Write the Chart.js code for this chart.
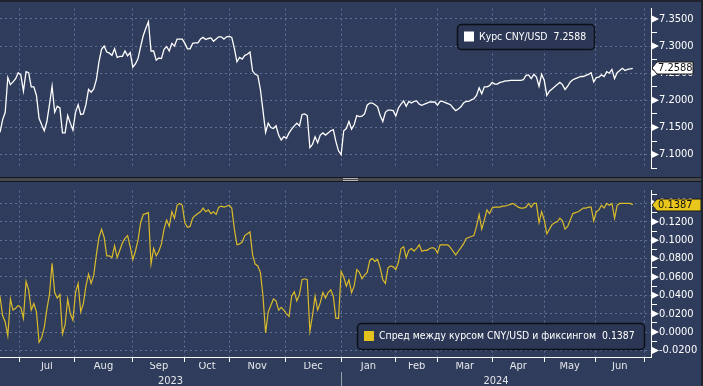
<!DOCTYPE html>
<html>
<head>
<meta charset="utf-8">
<script src="https://cdn.jsdelivr.net/npm/chart.js@4.4.0/dist/chart.umd.min.js"></script>
<style>
    html, body { margin: 0; padding: 0; background: #2f3c5b; }
    #page { position: relative; width: 703px; height: 386px; overflow: hidden; background: #2f3c5b; }
    #haut { position: absolute; left: 0; top: 0; }
    #bas { position: absolute; left: 0; top: 182px; }
    #bordHaut { position: absolute; left: 0; top: 0; width: 703px; height: 2px; background: #1f242e; }
    #bordDroit { position: absolute; left: 701px; top: 0; width: 2px; height: 386px; background: #1f242e; }
    #sep { position: absolute; left: 0; top: 177px; width: 703px; height: 5px; box-sizing: border-box;
           background: #46494e; border-top: 1px solid #16181c; border-bottom: 1px solid #16181c; }
    #poignee { position: absolute; left: 343px; top: 178px; width: 15px; height: 1px;
               border-top: 1px solid #b4b6ba; border-bottom: 1px solid #b4b6ba; }
</style>
</head>
<body>
<div id="page">
    <canvas id="haut" width="703" height="177"></canvas>
    <canvas id="bas" width="703" height="204"></canvas>
    <div id="sep"></div>
    <div id="poignee"></div>
    <div id="bordHaut"></div>
    <div id="bordDroit"></div>
</div>
<script>
// cours CNY/USD, un point par jour de bourse (juin 2023 - juin 2024)
var coursCnyUsd = [
    7.141, 7.164, 7.178, 7.242, 7.229, 7.234, 7.240, 7.251, 7.247, 7.217,
    7.253, 7.251, 7.225, 7.225, 7.209, 7.167, 7.155, 7.144, 7.161, 7.192,
    7.226, 7.178, 7.189, 7.186, 7.140, 7.140, 7.172, 7.158, 7.145, 7.178,
    7.192, 7.174, 7.175, 7.192, 7.220, 7.215, 7.221, 7.238, 7.271, 7.294,
    7.300, 7.289, 7.287, 7.283, 7.295, 7.279, 7.281, 7.281, 7.291, 7.282,
    7.288, 7.261, 7.267, 7.277, 7.299, 7.319, 7.333, 7.345, 7.291, 7.291,
    7.274, 7.278, 7.277, 7.294, 7.299, 7.291, 7.305, 7.300, 7.313, 7.313,
    7.313, 7.305, 7.295, 7.295, 7.305, 7.306, 7.306, 7.313, 7.316, 7.312,
    7.314, 7.315, 7.309, 7.313, 7.317, 7.317, 7.313, 7.317, 7.318, 7.316,
    7.296, 7.271, 7.279, 7.276, 7.283, 7.285, 7.289, 7.254, 7.248, 7.246,
    7.220, 7.181, 7.141, 7.158, 7.150, 7.148, 7.153, 7.136, 7.127, 7.133,
    7.130, 7.140, 7.147, 7.153, 7.158, 7.153, 7.174, 7.175, 7.172, 7.113,
    7.119, 7.133, 7.122, 7.136, 7.140, 7.136, 7.140, 7.144, 7.146, 7.124,
    7.107, 7.100, 7.144, 7.148, 7.161, 7.147, 7.155, 7.172, 7.170, 7.171,
    7.175, 7.191, 7.195, 7.195, 7.192, 7.188, 7.172, 7.161, 7.178, 7.182,
    7.182, 7.181, 7.171, 7.186, 7.193, 7.199, 7.189, 7.198, 7.195, 7.198,
    7.199, 7.193, 7.191, 7.193, 7.195, 7.197, 7.197, 7.197, 7.191, 7.198,
    7.198, 7.196, 7.194, 7.192, 7.186, 7.181, 7.184, 7.188, 7.195, 7.198,
    7.198, 7.201, 7.203, 7.209, 7.223, 7.212, 7.225, 7.225, 7.227, 7.233,
    7.230, 7.230, 7.233, 7.234, 7.236, 7.236, 7.237, 7.237, 7.237, 7.237,
    7.237, 7.238, 7.246, 7.247, 7.240, 7.248, 7.243, 7.226, 7.248, 7.237,
    7.209, 7.217, 7.221, 7.225, 7.229, 7.233, 7.229, 7.220, 7.226, 7.234,
    7.238, 7.240, 7.242, 7.244, 7.244, 7.246, 7.248, 7.251, 7.234, 7.242,
    7.243, 7.247, 7.244, 7.253, 7.250, 7.257, 7.240, 7.251, 7.255, 7.259,
    7.255, 7.257, 7.258, 7.2588
];

// spread entre le cours et le fixing
var spreadFixing = [
    0.039, 0.018, 0.011, -0.004, 0.036, 0.024, 0.026, 0.029, 0.027, 0.015,
    0.055, 0.046, 0.024, 0.031, 0.022, -0.011, -0.006, 0.005, 0.025, 0.041,
    0.075, 0.043, 0.037, 0.041, -0.002, 0.008, 0.036, 0.020, 0.013, 0.043,
    0.053, 0.022, 0.031, 0.050, 0.063, 0.053, 0.062, 0.084, 0.103, 0.112,
    0.103, 0.083, 0.083, 0.081, 0.094, 0.081, 0.089, 0.097, 0.102, 0.105,
    0.093, 0.079, 0.088, 0.100, 0.119, 0.128, 0.129, 0.130, 0.074, 0.091,
    0.083, 0.088, 0.096, 0.112, 0.122, 0.115, 0.131, 0.124, 0.138, 0.140,
    0.138, 0.119, 0.114, 0.115, 0.124, 0.127, 0.129, 0.131, 0.135, 0.131,
    0.133, 0.129, 0.131, 0.128, 0.136, 0.137, 0.136, 0.137, 0.138, 0.135,
    0.112, 0.095, 0.096, 0.098, 0.105, 0.107, 0.109, 0.084, 0.074, 0.072,
    0.065, 0.039, -0.001, 0.022, 0.029, 0.036, 0.034, 0.024, 0.027, 0.024,
    0.020, 0.017, 0.039, 0.044, 0.034, 0.041, 0.057, 0.058, 0.057, 0.001,
    0.018, 0.039, 0.024, 0.032, 0.043, 0.037, 0.043, 0.046, 0.039, 0.015,
    0.015, 0.066, 0.060, 0.050, 0.057, 0.043, 0.050, 0.068, 0.065, 0.058,
    0.062, 0.065, 0.078, 0.080, 0.077, 0.079, 0.070, 0.057, 0.053, 0.070,
    0.072, 0.071, 0.068, 0.076, 0.091, 0.093, 0.081, 0.089, 0.091, 0.088,
    0.091, 0.095, 0.088, 0.089, 0.089, 0.091, 0.092, 0.091, 0.086, 0.095,
    0.095, 0.095, 0.095, 0.092, 0.088, 0.084, 0.088, 0.092, 0.096, 0.102,
    0.103, 0.104, 0.105, 0.115, 0.128, 0.112, 0.122, 0.133, 0.129, 0.135,
    0.136, 0.136, 0.136, 0.137, 0.137, 0.138, 0.139, 0.140, 0.138, 0.136,
    0.135, 0.135, 0.136, 0.140, 0.136, 0.140, 0.140, 0.119, 0.131, 0.122,
    0.107, 0.112, 0.117, 0.119, 0.120, 0.124, 0.121, 0.112, 0.115, 0.122,
    0.129, 0.130, 0.131, 0.133, 0.135, 0.135, 0.136, 0.136, 0.121, 0.131,
    0.133, 0.138, 0.135, 0.140, 0.138, 0.140, 0.124, 0.138, 0.140, 0.140,
    0.140, 0.140, 0.140, 0.1387
];

// index (jour de bourse) du debut de chaque mois, de juil. 2023 a juil. 2024
var debutMois = [7.5, 28.5, 51, 71, 88, 109.5, 131, 152, 168, 189, 209, 228.5, 247.5];
var nomsMois = ["Jul", "Aug", "Sep", "Oct", "Nov", "Dec", "Jan", "Feb", "Mar", "Apr", "May", "Jun"];
var annees = ["2023", "2024"];
var ticksCours = [7.075, 7.100, 7.125, 7.150, 7.175, 7.200, 7.225, 7.250, 7.275, 7.300, 7.325, 7.350];
var ticksSpread = [-0.02, -0.01, 0, 0.01, 0.02, 0.03, 0.04, 0.05, 0.06, 0.07, 0.08, 0.09, 0.10, 0.11, 0.12, 0.13, 0.14, 0.15];

var jours = [];
for (i = 0; i < coursCnyUsd.length; i++) {
    jours.push(i);
}

var police = 'Tahoma, "DejaVu Sans Condensed", "Liberation Sans", sans-serif';
var couleurGrille = '#5f7099';
var jaune = '#d9bb2b';
Chart.defaults.font.family = police;
Chart.defaults.font.size = 11;

var moitiesMois = [];
for (i = 0; i < nomsMois.length; i++) {
    moitiesMois.push((debutMois[i] + debutMois[i + 1]) / 2);
}
var centresAnnees = [debutMois[6] / 2, (debutMois[6] + 250) / 2];

function axeY(ticks, min, max, majeur) {
    return {
        position: 'right',
        min: min,
        max: max,
        afterBuildTicks: function (s) {
            s.ticks = ticks.map(function (v) {
                return {value: v, principal: majeur(v)};
            });
        },
        afterFit: function (s) { s.width = 52; },
        ticks: {
            autoSkip: false,
            color: '#ffffff',
            padding: 2,
            font: {size: 11},
            callback: function (v) { return majeur(v) ? v.toFixed(4) : ''; }
        },
        grid: {
            color: function (c) { return c.tick && c.tick.principal ? couleurGrille : 'rgba(0,0,0,0)'; },
            tickLength: 6,
            tickColor: function (c) { return c.tick && c.tick.principal ? 'rgba(0,0,0,0)' : '#ffffff'; }
        },
        border: {display: true, color: '#ffffff', width: 1, dash: [2, 3]}
    };
}

// petits triangles, etiquette de derniere valeur et legende
function decor(id, axe, valeur, fond, largeurEtiquette, legende) {
    return {
        id: id,
        afterDraw: function (chart) {
            var ctx = chart.ctx, s = chart.scales[axe];
            ctx.save();
            ctx.fillStyle = '#ffffff';
            s.ticks.forEach(function (t) {
                if (!t.principal) return;
                var y = s.getPixelForValue(t.value);
                ctx.beginPath();
                ctx.moveTo(s.left + 1, y - 3.5);
                ctx.lineTo(s.left + 8, y);
                ctx.lineTo(s.left + 1, y + 3.5);
                ctx.closePath();
                ctx.fill();
            });

            var yv = Math.round(s.getPixelForValue(valeur));
            var x0 = s.left + 1, x1 = s.left + 6, x2 = s.left + largeurEtiquette;
            ctx.beginPath();
            ctx.moveTo(x0, yv);
            ctx.lineTo(x1, yv - 6);
            ctx.lineTo(x2, yv - 6);
            ctx.lineTo(x2, yv + 6);
            ctx.lineTo(x1, yv + 6);
            ctx.closePath();
            ctx.fillStyle = fond;
            ctx.fill();
            ctx.strokeStyle = '#1a1a1a';
            ctx.lineWidth = 1;
            ctx.stroke();
            ctx.fillStyle = '#111111';
            ctx.font = '11px ' + police;
            ctx.textBaseline = 'middle';
            ctx.fillText(valeur.toFixed(4), x1 + 1, yv + 0.5);

            var L = legende;
            ctx.beginPath();
            ctx.roundRect(L.x + 0.5, L.y + 0.5, L.w, L.h, 4);
            ctx.fillStyle = '#2b3755';
            ctx.fill();
            ctx.strokeStyle = '#0c0f18';
            ctx.lineWidth = 1.5;
            ctx.stroke();
            ctx.fillStyle = L.couleur;
            ctx.fillRect(L.x + 7, L.y + L.h / 2 - 5, 10, 10);
            ctx.fillStyle = '#ffffff';
            var texte = L.texte + '  ' + valeur.toFixed(4);
            var taille = 11;
            ctx.font = taille + 'px ' + police;
            while (ctx.measureText(texte).width > L.w - 28 && taille > 8) {
                taille -= 0.2;
                ctx.font = taille + 'px ' + police;
            }
            ctx.fillText(texte, L.x + 22, L.y + L.h / 2 + 0.5);
            ctx.restore();
        }
    };
}

var separationAnnee = {
    id: 'separationAnnee',
    afterDraw: function (chart) {
        var ctx = chart.ctx;
        var x = Math.round(chart.scales.x.getPixelForValue(debutMois[6])) + 0.5;
        ctx.save();
        ctx.strokeStyle = '#9aa0ab';
        ctx.lineWidth = 1;
        ctx.beginPath();
        ctx.moveTo(x, 190);
        ctx.lineTo(x, 204);
        ctx.stroke();
        ctx.restore();
    }
};

var ctxHaut = document.getElementById('haut').getContext('2d');
var chartHaut = new Chart(ctxHaut, {
    type: 'line',
    data: {
        labels: jours,
        datasets: [{
            label: 'Курс CNY/USD',
            data: coursCnyUsd,
            borderColor: '#ffffff',
            borderWidth: 1.3,
            pointRadius: 0,
            tension: 0
        }]
    },
    options: {
        responsive: false,
        animation: false,
        devicePixelRatio: 1,
        events: [],
        layout: {padding: {top: 2, bottom: 1, left: 0, right: 0}},
        plugins: {legend: {display: false}, tooltip: {enabled: false}},
        scales: {
            x: {
                type: 'linear',
                min: 0,
                max: 250,
                afterBuildTicks: function (s) {
                    s.ticks = debutMois.map(function (v) { return {value: v}; });
                },
                afterFit: function (s) { s.height = 0; },
                ticks: {display: false},
                grid: {color: couleurGrille, drawTicks: false},
                border: {display: false, dash: [2, 3]}
            },
            y: axeY(ticksCours, 7.0746, 7.3691, function (v) {
                return Math.abs(Math.round(v * 20) - v * 20) < 1e-6;
            })
        }
    },
    plugins: [decor('decorHaut', 'y', coursCnyUsd[coursCnyUsd.length - 1], '#ffffff', 42,
        {x: 457, y: 24, w: 137, h: 25, couleur: '#ffffff', texte: 'Курс CNY/USD'})]
});

var ctxBas = document.getElementById('bas').getContext('2d');
var chartBas = new Chart(ctxBas, {
    type: 'line',
    data: {
        labels: jours,
        datasets: [{
            label: 'Спред между курсом CNY/USD и фиксингом',
            data: spreadFixing,
            borderColor: jaune,
            borderWidth: 1.2,
            pointRadius: 0,
            tension: 0
        }]
    },
    options: {
        responsive: false,
        animation: false,
        devicePixelRatio: 1,
        events: [],
        layout: {padding: {top: 1, bottom: 0, left: 0, right: 0}},
        plugins: {legend: {display: false}, tooltip: {enabled: false}},
        scales: {
            x: {
                type: 'linear',
                position: 'bottom',
                min: 0,
                max: 250,
                afterBuildTicks: function (s) {
                    s.ticks = debutMois.map(function (v) { return {value: v}; });
                },
                afterFit: function (s) { s.height = 5; },
                ticks: {display: false},
                grid: {color: couleurGrille, tickLength: 5, tickColor: '#ffffff'},
                border: {display: true, color: '#ffffff', width: 1, dash: [2, 3]}
            },
            x2: {
                type: 'linear',
                position: 'bottom',
                min: 0,
                max: 250,
                afterBuildTicks: function (s) {
                    s.ticks = moitiesMois.map(function (v) { return {value: v}; });
                },
                afterFit: function (s) { s.height = 13; },
                ticks: {
                    autoSkip: false, maxRotation: 0, minRotation: 0, padding: -9,
                    color: '#e4e6ea', font: {size: 11, lineHeight: 1},
                    callback: function (v, i) { return nomsMois[i]; }
                },
                grid: {display: false},
                border: {display: false}
            },
            x3: {
                type: 'linear',
                position: 'bottom',
                min: 0,
                max: 250,
                afterBuildTicks: function (s) {
                    s.ticks = centresAnnees.map(function (v) { return {value: v}; });
                },
                afterFit: function (s) { s.height = 11; },
                ticks: {
                    autoSkip: false, maxRotation: 0, minRotation: 0, padding: -7,
                    color: '#e4e6ea', font: {size: 11, lineHeight: 1},
                    callback: function (v, i) { return annees[i]; }
                },
                grid: {display: false},
                border: {display: false}
            },
            y: axeY(ticksSpread, -0.0271, 0.1540, function (v) {
                return Math.abs(Math.round(v * 50) - v * 50) < 1e-6;
            })
        }
    },
    plugins: [separationAnnee, decor('decorBas', 'y', spreadFixing[spreadFixing.length - 1], '#e8c61c', 50,
        {x: 357, y: 141, w: 287, h: 26, couleur: '#e3c21d', texte: 'Спред между курсом CNY/USD и фиксингом'})]
});
</script>
</body>
</html>
